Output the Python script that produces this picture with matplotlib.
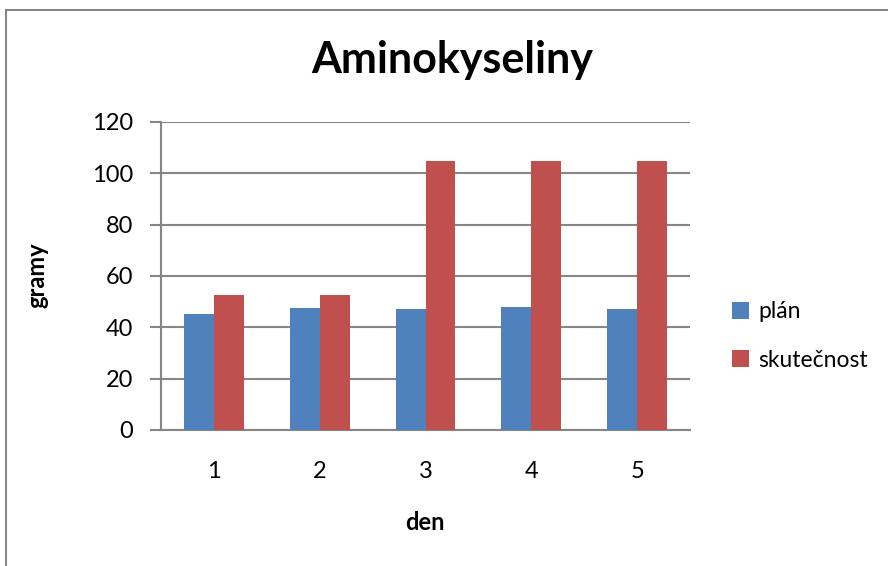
import numpy as np
import matplotlib
matplotlib.use('Agg')
import matplotlib.pyplot as plt
from matplotlib.lines import Line2D

plt.rcParams['font.family'] = ['Lato', 'DejaVu Sans']

dny = ['1', '2', '3', '4', '5']
plan = [45.2, 47.4, 47.2, 47.8, 47.1]
skutecnost = [52.5, 52.5, 105, 105, 105]
yticks = [0, 20, 40, 60, 80, 100, 120]

fig = plt.figure(figsize=(8.88, 5.66), dpi=100)
ax = fig.add_axes([161/888, 136/566, 529/888, 308/566])

x = np.arange(1, len(dny) + 1)
w = 0.283
ax.bar(x - w/2, plan, w, color='#4F81BD', label='plán', zorder=3)
ax.bar(x + w/2, skutecnost, w, color='#C0504D', label='skutečnost', zorder=3)

ax.set_xlim(0.5, 5.5)
ax.set_ylim(0, 120)
ax.set_yticks(yticks)
ax.set_xticks(x)
ax.set_xticklabels(dny)
ax.yaxis.grid(True, color='#868686', linewidth=1.5, zorder=0)
for s in ['top', 'right']:
    ax.spines[s].set_visible(False)
for s in ['left', 'bottom']:
    ax.spines[s].set_color('#868686')
    ax.spines[s].set_linewidth(1.5)
ax.tick_params(axis='y', length=8, width=1.5, color='#868686', labelsize=17, pad=12)
ax.tick_params(axis='x', length=0, labelsize=17, pad=22)

fig.text(37/888, 1 - 275/566, 'gramy', fontsize=17, fontweight='bold',
         rotation=90, ha='center', va='center')
fig.text(425/888, 1 - 523/566, 'den', fontsize=17, fontweight='bold',
         ha='center', va='center')

fig.text(452/888, 1 - 60/566, 'Aminokyseliny', fontsize=31, fontweight='bold',
         ha='center', va='center')

leg = ax.legend(loc='center left', bbox_to_anchor=(732/888, 1 - 336/566),
                bbox_transform=fig.transFigure, frameon=False, fontsize=16.5,
                handlelength=0.75, handleheight=0.75, handletextpad=0.4,
                labelspacing=1.2, borderpad=0, borderaxespad=0)

# okraj grafu
fig.add_artist(Line2D([6/888, 1], [1 - 10/566, 1 - 10/566], color='#868686', linewidth=1.5))
fig.add_artist(Line2D([6/888, 6/888], [0, 1 - 10/566], color='#868686', linewidth=1.5))

fig.savefig('out.png', dpi=100)
